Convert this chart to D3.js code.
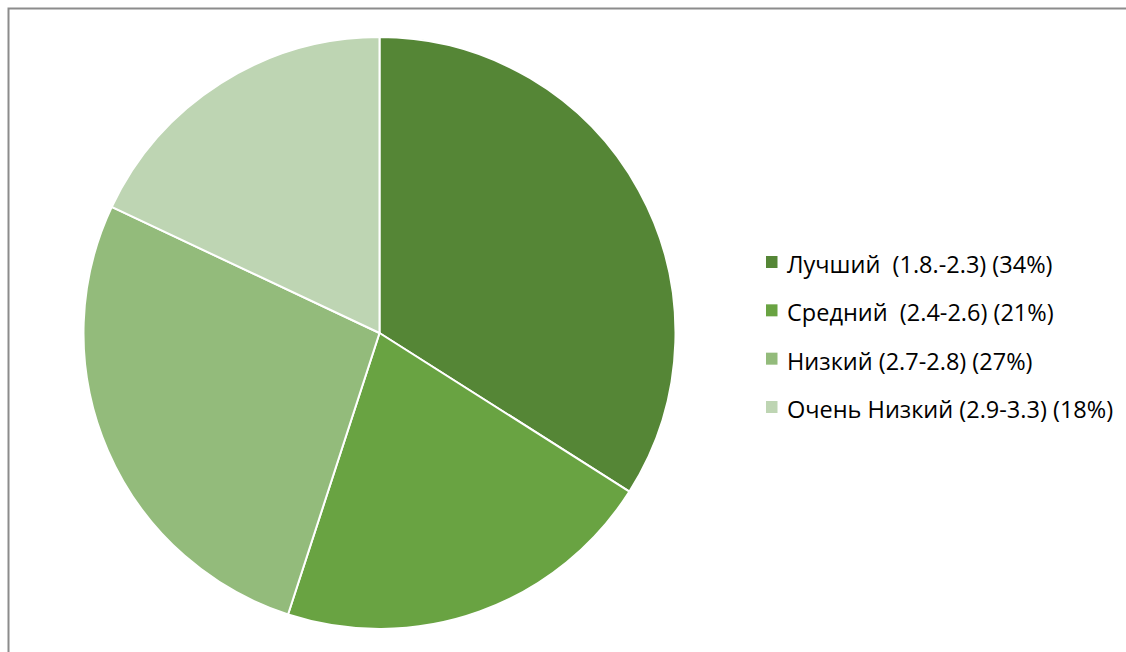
<!DOCTYPE html>
<html>
<head>
<meta charset="utf-8">
<script src="https://cdn.jsdelivr.net/npm/d3@7"></script>
<style>
  body { margin: 0; background: #fff; }
  svg { display: block; }
</style>
</head>
<body>
<div id="chart"></div>
<script>
// chart data
var labels = ["Лучший  (1.8.-2.3) (34%)", "Средний  (2.4-2.6) (21%)", "Низкий (2.7-2.8) (27%)", "Очень Низкий (2.9-3.3) (18%)"];
var values = [34, 21, 27, 18];
var colors = ["#558636", "#69A342", "#93BB7B", "#BED5B3"];

var width = 1126, height = 652;
var cx = 379.5, cy = 333, radius = 296;

var svg = d3.select("#chart").append("svg")
    .attr("width", width)
    .attr("height", height);

// frame
svg.append("path")
    .attr("d", "M8.5," + height + "V8.5H" + width)
    .attr("fill", "none")
    .attr("stroke", "#8c8c8c")
    .attr("stroke-width", 2);

var pie = d3.pie().sort(null).value(function (d) { return d; });
var arc = d3.arc().innerRadius(0).outerRadius(radius);

var g = svg.append("g").attr("transform", "translate(" + cx + "," + cy + ")");

g.selectAll("path")
    .data(pie(values))
    .enter()
    .append("path")
    .attr("d", arc)
    .attr("fill", function (d, i) { return colors[i]; })
    .attr("stroke", "#fff")
    .attr("stroke-width", 2)
    .attr("stroke-linejoin", "round");

// legend
var legendY = d3.scalePoint().domain(d3.range(labels.length)).range([262, 407]);

var leg = svg.append("g").selectAll("g")
    .data(labels)
    .enter()
    .append("g")
    .attr("transform", function (d, i) { return "translate(766," + legendY(i) + ")"; });

leg.append("rect")
    .attr("x", 0)
    .attr("y", -6)
    .attr("width", 11.5)
    .attr("height", 12)
    .attr("fill", function (d, i) { return colors[i]; });

leg.append("text")
    .attr("x", 21)
    .attr("y", 11)
    .attr("font-family", "'Open Sans', sans-serif")
    .attr("font-size", "23.5px")
    .attr("fill", "#000")
    .style("white-space", "pre")
    .text(function (d) { return d; });
</script>
</body>
</html>
